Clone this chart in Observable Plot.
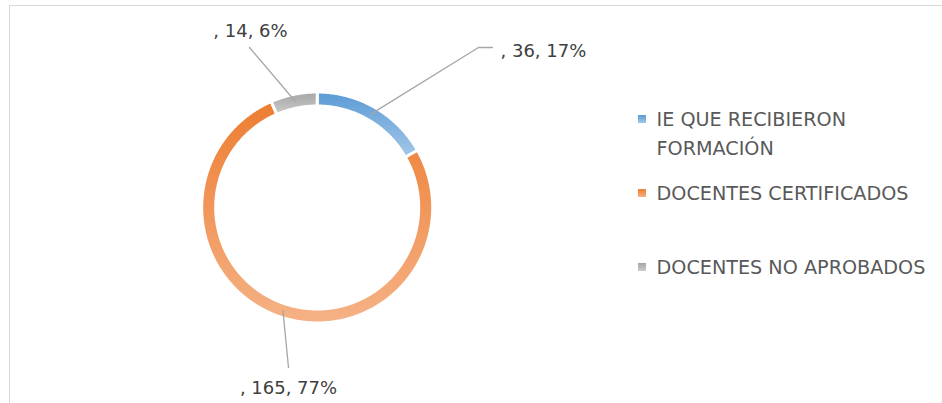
<!DOCTYPE html>
<html><head><meta charset="utf-8">
<script src="https://cdn.jsdelivr.net/npm/d3@7"></script>
<script src="https://cdn.jsdelivr.net/npm/@observablehq/plot@0.6"></script>
<style>
html,body{margin:0;padding:0;background:#fff;}
#wrap{position:relative;width:942px;height:403px;overflow:hidden;}
#frame{position:absolute;left:9px;top:5px;width:1000px;height:500px;border:1.5px solid #d9d9d9;}
#wrap svg{position:absolute;left:0;top:0;}
</style></head><body><div id="wrap"><div id="frame"></div></div>
<script>
// ---- data ----
const categories = ["IE QUE RECIBIERON FORMACIÓN", "DOCENTES CERTIFICADOS", "DOCENTES NO APROBADOS"];
const values = [36, 165, 14];
const percentLabels = ["17%", "77%", "6%"];
const legendLines = [["IE QUE RECIBIERON", "FORMACIÓN"], ["DOCENTES CERTIFICADOS"], ["DOCENTES NO APROBADOS"]];

// ---- styles / layout ----
const gradientStops = [["#5b9bd5", "#a3c7e8"], ["#ed7d31", "#f5b286"], ["#a5a5a5", "#cbcbcb"]];
const W = 942, H = 403, CX = 316.7, CY = 207, R = 114;      // pixel layout of the donut
const outerR = 115.5 / R, innerR = 101.5 / R, leaderR = 108.5 / R;
const labelLayout = [
  {elbow: [478, 47], end: [492, 47], text: [500, 51], anchor: "start"},
  {elbow: null, end: [288, 367], text: [288, 388], anchor: "middle"},
  {elbow: null, end: [249, 47], text: [250, 31], anchor: "middle"}
];
const legendLayout = {swatchX: 638, swatchSize: 8, textX: 656, rows: [[119, 148], [193], [267]]};

const ux = px => (px - CX) / R;
const uy = py => (CY - py) / R;

// ---- geometry from data ----
const arcs = d3.pie().sort(null).value(d => d)(values);
const ringPts = [];
arcs.forEach((a, i) => {
  const n = Math.max(8, Math.ceil((a.endAngle - a.startAngle) / 0.01));
  for (let k = 0; k <= n; k++) {
    const t = a.startAngle + (a.endAngle - a.startAngle) * k / n;
    ringPts.push({slice: i, x: outerR * Math.sin(t), y: outerR * Math.cos(t)});
  }
  for (let k = n; k >= 0; k--) {
    const t = a.startAngle + (a.endAngle - a.startAngle) * k / n;
    ringPts.push({slice: i, x: innerR * Math.sin(t), y: innerR * Math.cos(t)});
  }
});

const leaderPts = [];
const labelData = [];
arcs.forEach((a, i) => {
  const m = (a.startAngle + a.endAngle) / 2;
  const L = labelLayout[i];
  leaderPts.push({slice: i, x: leaderR * Math.sin(m), y: leaderR * Math.cos(m)});
  if (L.elbow) leaderPts.push({slice: i, x: ux(L.elbow[0]), y: uy(L.elbow[1])});
  leaderPts.push({slice: i, x: ux(L.end[0]), y: uy(L.end[1])});
  labelData.push({slice: i, x: ux(L.text[0]), y: uy(L.text[1]), text: `, ${values[i]}, ${percentLabels[i]}`, anchor: L.anchor});
});

const legendText = [];
const legendSw = [];
legendLines.forEach((lines, i) => {
  lines.forEach((t, j) => legendText.push({x: ux(legendLayout.textX), y: uy(legendLayout.rows[i][j]), text: t}));
  const yc = legendLayout.rows[i][0], s = legendLayout.swatchSize;
  legendSw.push({slice: i, x1: ux(legendLayout.swatchX), x2: ux(legendLayout.swatchX + s), y1: uy(yc - s / 2), y2: uy(yc + s / 2)});
});

const marks = [];
values.forEach((v, i) => {
  marks.push(Plot.line(ringPts.filter(d => d.slice === i), {
    x: "x", y: "y", curve: "linear-closed", fill: `url(#grad${i})`, stroke: "white", strokeWidth: 3
  }));
});
values.forEach((v, i) => {
  marks.push(Plot.line(leaderPts.filter(d => d.slice === i), {x: "x", y: "y", stroke: "#a6a6a6", strokeWidth: 1.3}));
});
marks.push(Plot.text(labelData.filter(d => d.anchor === "start"), {
  x: "x", y: "y", text: "text", textAnchor: "start", fontSize: 18, fontFamily: "DejaVu Sans", fill: "#404040"
}));
marks.push(Plot.text(labelData.filter(d => d.anchor === "middle"), {
  x: "x", y: "y", text: "text", textAnchor: "middle", fontSize: 18, fontFamily: "DejaVu Sans", fill: "#404040"
}));
legendSw.forEach((d, i) => {
  marks.push(Plot.rect([d], {x1: "x1", x2: "x2", y1: "y1", y2: "y2", fill: `url(#grad${i})`}));
});
marks.push(Plot.text(legendText, {
  x: "x", y: "y", text: "text", textAnchor: "start", fontSize: 19.2, fontFamily: "DejaVu Sans", fill: "#595959"
}));

const svg = Plot.plot({
  width: W, height: H, margin: 0,
  x: {domain: [ux(0), ux(W)], axis: null},
  y: {domain: [uy(H), uy(0)], axis: null},
  style: {background: "transparent", overflow: "visible"},
  marks
});
const defs = d3.select(svg).insert("defs", ":first-child");
gradientStops.forEach((s, i) => {
  const g = defs.append("linearGradient").attr("id", `grad${i}`).attr("x1", 0).attr("y1", 0).attr("x2", 0).attr("y2", 1);
  g.append("stop").attr("offset", "0%").attr("stop-color", s[0]);
  g.append("stop").attr("offset", "100%").attr("stop-color", s[1]);
});
document.getElementById("wrap").appendChild(svg);
</script></body></html>
